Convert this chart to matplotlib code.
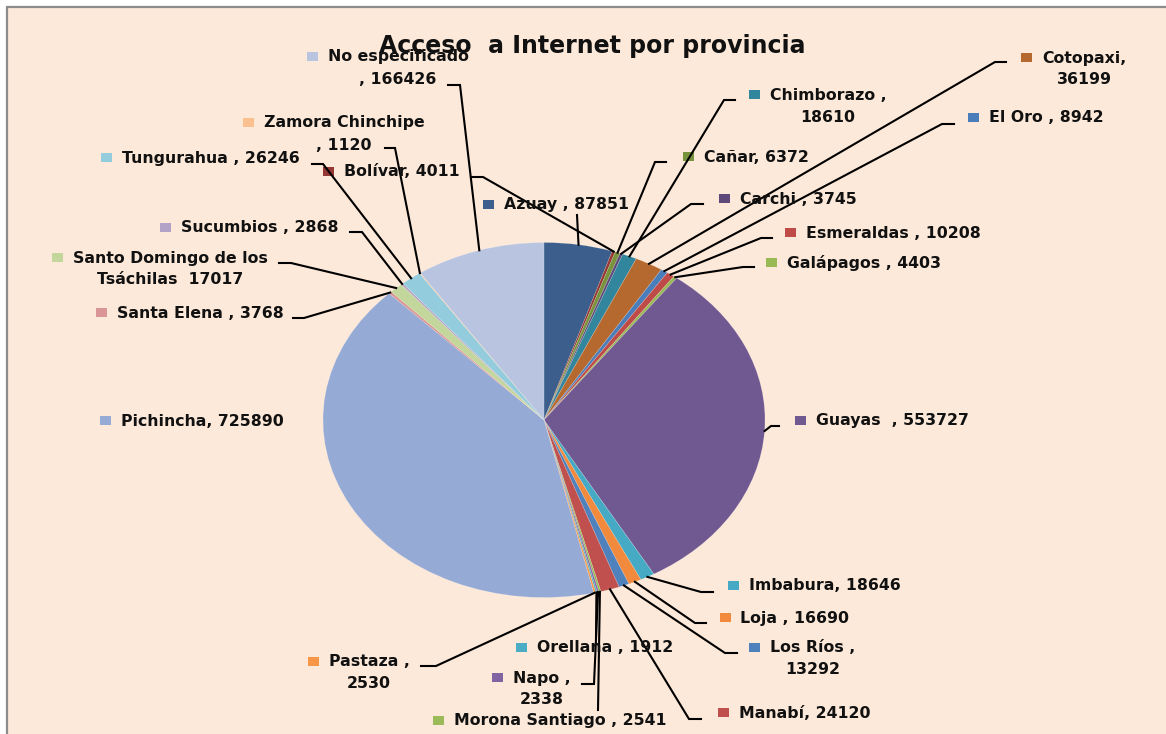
import numpy as np
import matplotlib
matplotlib.use('Agg')
import matplotlib.pyplot as plt
from matplotlib.patches import Rectangle

plt.rcParams['font.family'] = ['DejaVu Sans']

# Data: acceso a internet por provincia
provincias = ['Azuay', 'Bolívar', 'Cañar', 'Carchi', 'Chimborazo', 'Cotopaxi',
              'El Oro', 'Esmeraldas', 'Galápagos', 'Guayas', 'Imbabura', 'Loja',
              'Los Ríos', 'Manabí', 'Morona Santiago', 'Napo', 'Orellana', 'Pastaza',
              'Pichincha', 'Santa Elena', 'Santo Domingo de los\nTsáchilas ', 'Sucumbios',
              'Tungurahua', 'Zamora Chinchipe', 'No especificado']
valores = [87851, 4011, 6372, 3745, 18610, 36199,
           8942, 10208, 4403, 553727, 18646, 16690,
           13292, 24120, 2541, 2338, 1912, 2530,
           725890, 3768, 17017, 2868,
           26246, 1120, 166426]

# how each label joins name and value (as in the original chart)
formatos = ['{} , {}', '{}, {}', '{}, {}', '{} , {}', '{} ,\n{}', '{},\n{}',
            '{} , {}', '{} , {}', '{} , {}', '{}  , {}', '{}, {}', '{} , {}',
            '{} ,\n{}', '{}, {}', '{} , {}', '{} ,\n{}', '{} , {}', '{} ,\n{}',
            '{}, {}', '{} , {}', '{} {}', '{} , {}',
            '{} , {}', '{}\n, {}', '{}\n, {}']

colores = ['#3B5E8C', '#953735', '#77933C', '#5F497A', '#31859C', '#B6692F',
           '#4A7EBB', '#BE4B48', '#98B954', '#705891', '#46AAC5', '#F28A3E',
           '#4F81BD', '#C0504D', '#9BBB59', '#8064A2', '#4BACC6', '#F79646',
           '#95AAD4', '#D99694', '#C3D69B', '#B3A2C7', '#93CDDD', '#FAC090', '#B9C5E0']

# label layout (pixel coords): block centre x, first line y
pos_label = [(566, 205), (402, 172), (756, 157), (798, 199), (828, 95), (1084, 58),
             (1046, 118), (893, 233), (864, 263), (892, 421), (825, 586), (795, 618),
             (813, 648), (805, 713), (560, 721), (542, 678), (605, 648), (369, 662),
             (202, 421), (200, 313), (170, 258), (260, 228),
             (211, 158), (344, 123), (398, 57)]
# leader lines: knee point and end of horizontal stub (None = no leader)
leaders = [((577, 215), (577, 215)), ((483, 177), (471, 177)), ((655, 162), (666, 162)),
           ((691, 204), (703, 204)), ((724, 100), (735, 100)), ((995, 62), (1006, 62)),
           ((942, 124), (954, 124)), ((761, 238), (772, 238)), ((743, 267), (754, 267)),
           ((771, 426), (779, 426)), ((701, 592), (713, 592)), ((695, 623), (706, 623)),
           ((725, 653), (737, 653)), ((689, 719), (701, 719)), ((598, 710), (598, 710)),
           ((594, 684), (582, 684)), ((596, 637), (596, 637)), ((436, 666), (421, 666)),
           None, ((304, 318), (293, 318)), ((291, 263), (279, 263)), ((362, 232), (350, 232)),
           ((323, 164), (312, 164)), ((395, 148), (385, 148)), ((460, 85), (448, 85))]

W, H = 1166, 734
fig = plt.figure(figsize=(W / 100, H / 100), dpi=100)
fig.patch.set_facecolor('white')

bg = fig.add_axes([0, 0, 1, 1])
bg.set_xlim(0, W)
bg.set_ylim(H, 0)
bg.axis('off')
bg.add_patch(Rectangle((7, 7), W + 10, H + 10, facecolor='#FDE9D9',
                       edgecolor='#8C8C8C', lw=1.6))

# elliptical pie, as stretched in the spreadsheet
cx, cy, rx, ry = 544, 420, 221, 177.5
pax = fig.add_axes([(cx - rx) / W, (H - cy - ry) / H, 2 * rx / W, 2 * ry / H])
pax.pie(valores, colors=colores, startangle=90, counterclock=False,
        wedgeprops=dict(linewidth=0.4, edgecolor='#ffffff40'))
pax.set_xlim(-1, 1)
pax.set_ylim(-1, 1)
pax.set_aspect('auto')
pax.axis('off')

ov = fig.add_axes([0, 0, 1, 1])
ov.set_xlim(0, W)
ov.set_ylim(H, 0)
ov.axis('off')
ov.patch.set_alpha(0)

ov.text(592, 46, 'Acceso  a Internet por provincia', ha='center', va='center',
        fontsize=17, fontweight='bold', color='#111111')

total = sum(valores)
acum = np.cumsum([0] + valores[:-1])
textos_l1 = []
for i, (nom, val) in enumerate(zip(provincias, valores)):
    etiqueta = formatos[i].format(nom, val)
    lineas = etiqueta.split('\n')
    lx, ly = pos_label[i]
    objs = []
    for k, ln in enumerate(lineas):
        t = ov.text(lx, ly + 22 * k, ln.strip(), ha='center', va='center',
                    fontsize=11.3, fontweight='bold', color='#111111')
        objs.append(t)
    textos_l1.append(objs[0])

    if leaders[i] is not None:
        ang = np.radians((acum[i] + val / 2) / total * 360)
        px = cx + rx * np.sin(ang)
        py = cy - ry * np.cos(ang)
        (kx, ky), (sx, sy) = leaders[i]
        ov.plot([px, kx, sx], [py, ky, sy], color='black', lw=1.5,
                solid_joinstyle='miter')

fig.canvas.draw()
r = fig.canvas.get_renderer()
inv = ov.transData.inverted()
for i, t in enumerate(textos_l1):
    bb = t.get_window_extent(renderer=r)
    left = inv.transform((bb.x0, bb.y0))[0]
    ly = pos_label[i][1]
    ov.add_patch(Rectangle((left - 21, ly - 5), 11, 9, facecolor=colores[i],
                           edgecolor='none'))

fig.savefig('out.png', dpi=100, facecolor='white')
